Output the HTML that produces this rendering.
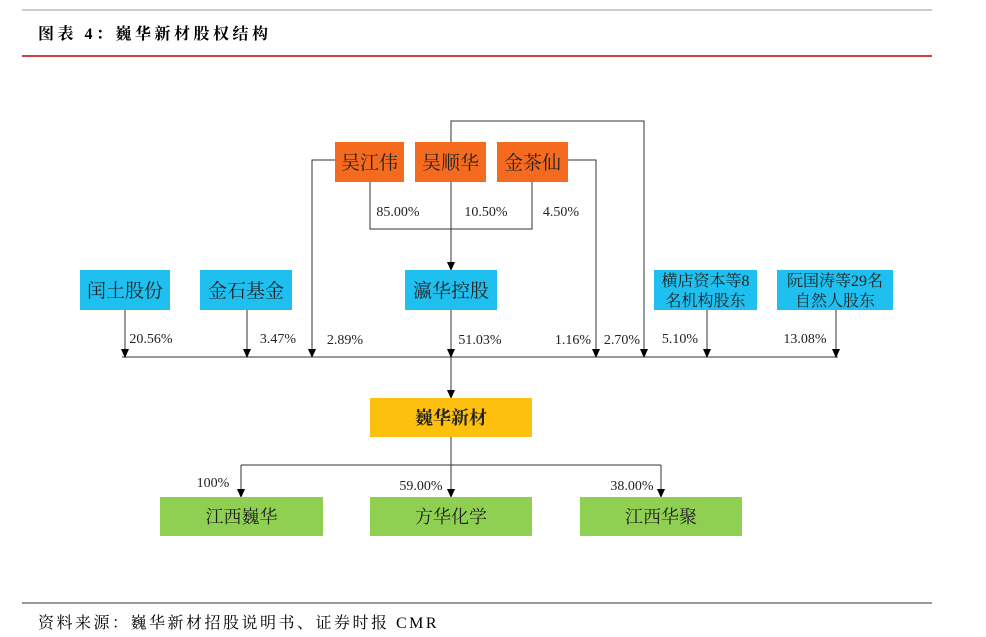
<!DOCTYPE html>
<html><head><meta charset="utf-8"><style>
body{margin:0;background:#fff;}
svg{display:block;font-family:"Liberation Serif","Noto Serif CJK SC",serif;}
.cj{font-family:"Liberation Serif","Noto Serif CJK SC",serif;}
</style></head><body>
<svg width="986" height="637" viewBox="0 0 986 637">
<defs>
<marker id="ad" markerWidth="8" markerHeight="9" refX="4" refY="8" markerUnits="userSpaceOnUse"><path d="M0,0 L8,0 L4,9 z" fill="#000"/></marker></defs>
<line x1="22" y1="10" x2="932" y2="10" stroke="#999" stroke-width="1"/>
<text x="38" y="39" font-size="16" font-weight="bold" fill="#000" letter-spacing="3.5" class="cj">图表 4：巍华新材股权结构</text>
<line x1="22" y1="56" x2="932" y2="56" stroke="#c00000" stroke-width="1.5"/>
<g stroke="#333" stroke-width="1" fill="none">
<polyline points="451,142 451,121 644,121 644,357" marker-end="url(#ad)"/>
<polyline points="335,160 312,160 312,357" marker-end="url(#ad)"/>
<polyline points="568,160 596,160 596,357" marker-end="url(#ad)"/>
<polyline points="370,182 370,229 532,229 532,182"/>
<line x1="451" y1="182" x2="451" y2="270" marker-end="url(#ad)"/>
<line x1="122" y1="357" x2="838" y2="357"/>
<line x1="125" y1="310" x2="125" y2="357" marker-end="url(#ad)"/>
<line x1="247" y1="310" x2="247" y2="357" marker-end="url(#ad)"/>
<line x1="451" y1="310" x2="451" y2="357" marker-end="url(#ad)"/>
<line x1="707" y1="310" x2="707" y2="357" marker-end="url(#ad)"/>
<line x1="836" y1="310" x2="836" y2="357" marker-end="url(#ad)"/>
<line x1="451" y1="357" x2="451" y2="398" marker-end="url(#ad)"/>
<line x1="451" y1="437" x2="451" y2="465"/>
<line x1="241" y1="465" x2="661" y2="465"/>
<line x1="241" y1="465" x2="241" y2="497" marker-end="url(#ad)"/>
<line x1="451" y1="465" x2="451" y2="497" marker-end="url(#ad)"/>
<line x1="661" y1="465" x2="661" y2="497" marker-end="url(#ad)"/>
</g>
<g class="cj" font-size="19" text-anchor="middle" fill="#222">
<rect x="335" y="142" width="69" height="40" fill="#f46b1f"/><text x="369.5" y="169">吴江伟</text>
<rect x="415" y="142" width="71" height="40" fill="#f46b1f"/><text x="450.5" y="169">吴顺华</text>
<rect x="497" y="142" width="71" height="40" fill="#f46b1f"/><text x="532.5" y="169">金茶仙</text>
<rect x="80" y="270" width="90" height="40" fill="#1fc0f0"/><text x="125" y="297">闰土股份</text>
<rect x="200" y="270" width="92" height="40" fill="#1fc0f0"/><text x="246" y="297">金石基金</text>
<rect x="405" y="270" width="92" height="40" fill="#1fc0f0"/><text x="451" y="297">瀛华控股</text>
<g font-size="16"><rect x="654" y="270" width="103" height="40" fill="#1fc0f0"/><text x="705.5" y="286">横店资本等8</text><text x="705.5" y="306">名机构股东</text>
<rect x="777" y="270" width="116" height="40" fill="#1fc0f0"/><text x="835" y="286">阮国涛等29名</text><text x="835" y="306">自然人股东</text></g>
<rect x="370" y="398" width="162" height="39" fill="#fdc00f"/><text x="451" y="424" font-weight="bold" font-size="18">巍华新材</text>
<rect x="160" y="497" width="163" height="39" fill="#8fd053"/><text x="241.5" y="523" font-size="18">江西巍华</text>
<rect x="370" y="497" width="162" height="39" fill="#8fd053"/><text x="451" y="523" font-size="18">方华化学</text>
<rect x="580" y="497" width="162" height="39" fill="#8fd053"/><text x="661" y="523" font-size="18">江西华聚</text>
</g>
<g font-size="14" text-anchor="middle" fill="#222">
<text x="398" y="216">85.00%</text><text x="486" y="216">10.50%</text><text x="561" y="216">4.50%</text>
<text x="151" y="343">20.56%</text><text x="278" y="343">3.47%</text><text x="345" y="344">2.89%</text><text x="480" y="344">51.03%</text>
<text x="573" y="344">1.16%</text><text x="622" y="344">2.70%</text><text x="680" y="343">5.10%</text><text x="805" y="343">13.08%</text>
<text x="213" y="487">100%</text><text x="421" y="490">59.00%</text><text x="632" y="490">38.00%</text>
</g>
<line x1="22" y1="603" x2="932" y2="603" stroke="#333" stroke-width="1"/>
<text x="38" y="628" font-size="16" letter-spacing="2.5" fill="#000" class="cj">资料来源：巍华新材招股说明书、证券时报 CMR</text>
</svg>
</body></html>
